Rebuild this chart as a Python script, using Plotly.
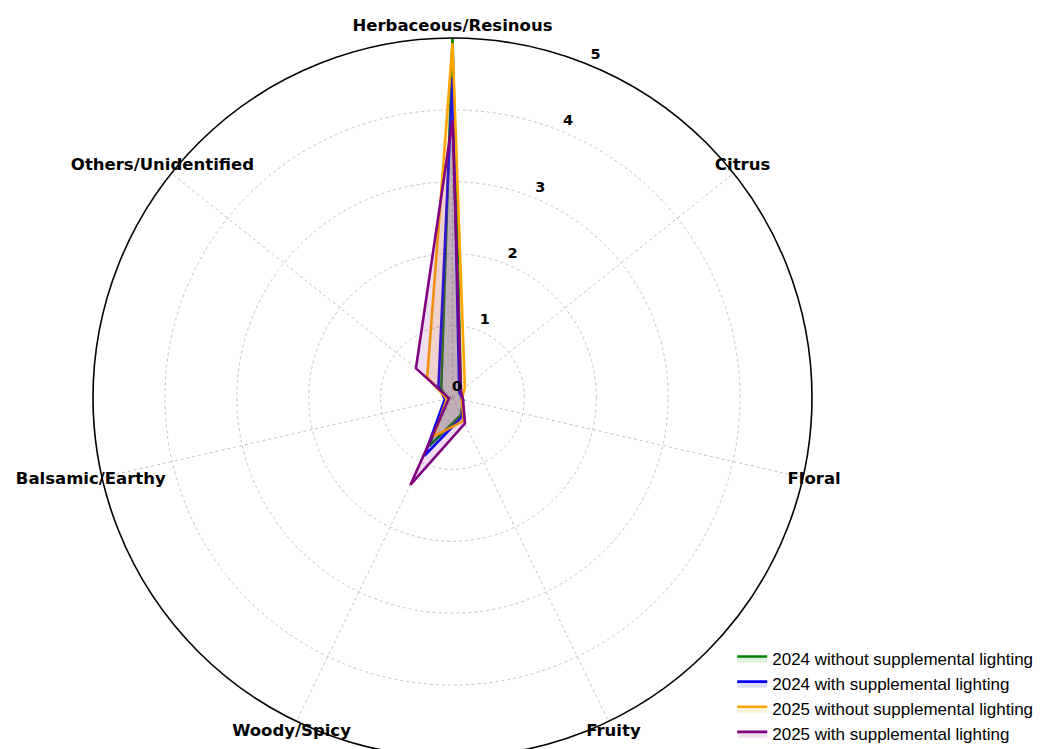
import plotly.graph_objects as go

categories = ["Herbaceous/Resinous", "Citrus", "Floral", "Fruity",
              "Woody/Spicy", "Balsamic/Earthy", "Others/Unidentified"]

series_names = ["2024 without supplemental lighting",
                "2024 with supplemental lighting",
                "2025 without supplemental lighting",
                "2025 with supplemental lighting"]

v2024_without = [5.0, 0.15, 0.15, 0.27, 0.75, 0.08, 0.20]
v2024_with = [4.45, 0.12, 0.15, 0.30, 0.90, 0.11, 0.25]
v2025_without = [4.93, 0.22, 0.13, 0.36, 0.60, 0.08, 0.45]
v2025_with = [3.86, 0.15, 0.15, 0.40, 1.35, 0.05, 0.65]

radial_ticks = [0, 1, 2, 3, 4, 5]
radial_labels = ["0", "1", "2", "3", "4", "5"]

line_colors = ["#008000", "#0000ff", "#ffa500", "#800080"]
fill_colors = ["rgba(0,128,0,0.13)", "rgba(0,0,255,0.13)",
               "rgba(255,165,0,0.15)", "rgba(128,0,128,0.13)"]

all_values = [v2024_without, v2024_with, v2025_without, v2025_with]

n = len(categories)
angles = [i * 360.0 / n for i in range(n)]

# ---- layout geometry (pixels in the figure) ----
W, H = 1049, 749
CX, CY = 444.5, 389.5          # circle centre
R_MAIN = 359.5                 # pixel radius of r = 5
RMAX = 5.0
R_LABEL_MAX = 5.3              # range of the overlay polar used for labels
R_LAB = R_MAIN * R_LABEL_MAX / RMAX
SECTOR = [-65, 245]
SIN_LOW = 0.906307787          # sin(65 deg), lower extent of sector bbox

dom_main_x = [(CX - R_MAIN) / W, (CX + R_MAIN) / W]
dom_main_y = [1 - (CY + R_MAIN) / H if (CY + R_MAIN) < H else 0.0, 1 - (CY - R_MAIN) / H]
dom_lab_x = [(CX - R_LAB) / W, (CX + R_LAB) / W]
dom_lab_y = [1 - (CY + SIN_LOW * R_LAB) / H, 1 - (CY - R_LAB) / H]

fig = go.Figure()
for name, vals, lc, fc in zip(series_names, all_values, line_colors, fill_colors):
    fig.add_trace(go.Scatterpolar(
        r=vals + vals[:1],
        theta=angles + angles[:1],
        mode="lines",
        name=name,
        line=dict(color=lc, width=2.6),
        fill="toself",
        fillcolor=fc,
        hoverinfo="skip",
        subplot="polar",
    ))

# category labels, centred just outside the outer circle
fig.add_trace(go.Scatterpolar(
    r=[5.16] * n,
    theta=angles,
    mode="text",
    text=categories,
    textposition="middle center",
    textfont=dict(family="DejaVu Sans", size=16.5, color="black", weight="bold"),
    cliponaxis=False,
    showlegend=False,
    hoverinfo="skip",
    subplot="polar2",
))

# radial tick labels along a ray at ~22.7 degrees
fig.add_trace(go.Scatterpolar(
    r=[t + 0.16 for t in radial_ticks],
    theta=[22.7] * len(radial_ticks),
    mode="text",
    text=radial_labels,
    textposition="middle center",
    textfont=dict(family="DejaVu Sans", size=14.5, color="black", weight="bold"),
    cliponaxis=False,
    showlegend=False,
    hoverinfo="skip",
    subplot="polar2",
))

fig.update_layout(
    width=W, height=H,
    margin=dict(l=0, r=0, t=0, b=0),
    paper_bgcolor="white",
    plot_bgcolor="white",
    font=dict(family="DejaVu Sans", color="black"),
    polar=dict(
        domain=dict(x=dom_main_x, y=dom_main_y),
        bgcolor="white",
        angularaxis=dict(
            type="linear",
            thetaunit="degrees",
            rotation=90,
            direction="clockwise",
            tickmode="array",
            tickvals=angles,
            showticklabels=False,
            showline=True,
            linecolor="black",
            linewidth=1.6,
            showgrid=True,
            gridcolor="#c4c4c4",
            griddash="dot",
            gridwidth=1,
            ticks="",
        ),
        radialaxis=dict(
            range=[0, RMAX],
            tickvals=radial_ticks,
            showticklabels=False,
            showline=False,
            showgrid=True,
            gridcolor="#c4c4c4",
            griddash="dot",
            gridwidth=1,
            ticks="",
        ),
    ),
    polar2=dict(
        domain=dict(x=dom_lab_x, y=dom_lab_y),
        sector=SECTOR,
        bgcolor="rgba(0,0,0,0)",
        angularaxis=dict(
            type="linear",
            thetaunit="degrees",
            rotation=90,
            direction="clockwise",
            visible=False,
        ),
        radialaxis=dict(range=[0, R_LABEL_MAX], visible=False),
    ),
    showlegend=True,
    legend=dict(
        x=0.6904, y=0.0067, xanchor="left", yanchor="bottom",
        font=dict(family="Liberation Sans", size=17, color="black"),
        bgcolor="rgba(255,255,255,0)",
    ),
)

fig.write_html("out.html")
